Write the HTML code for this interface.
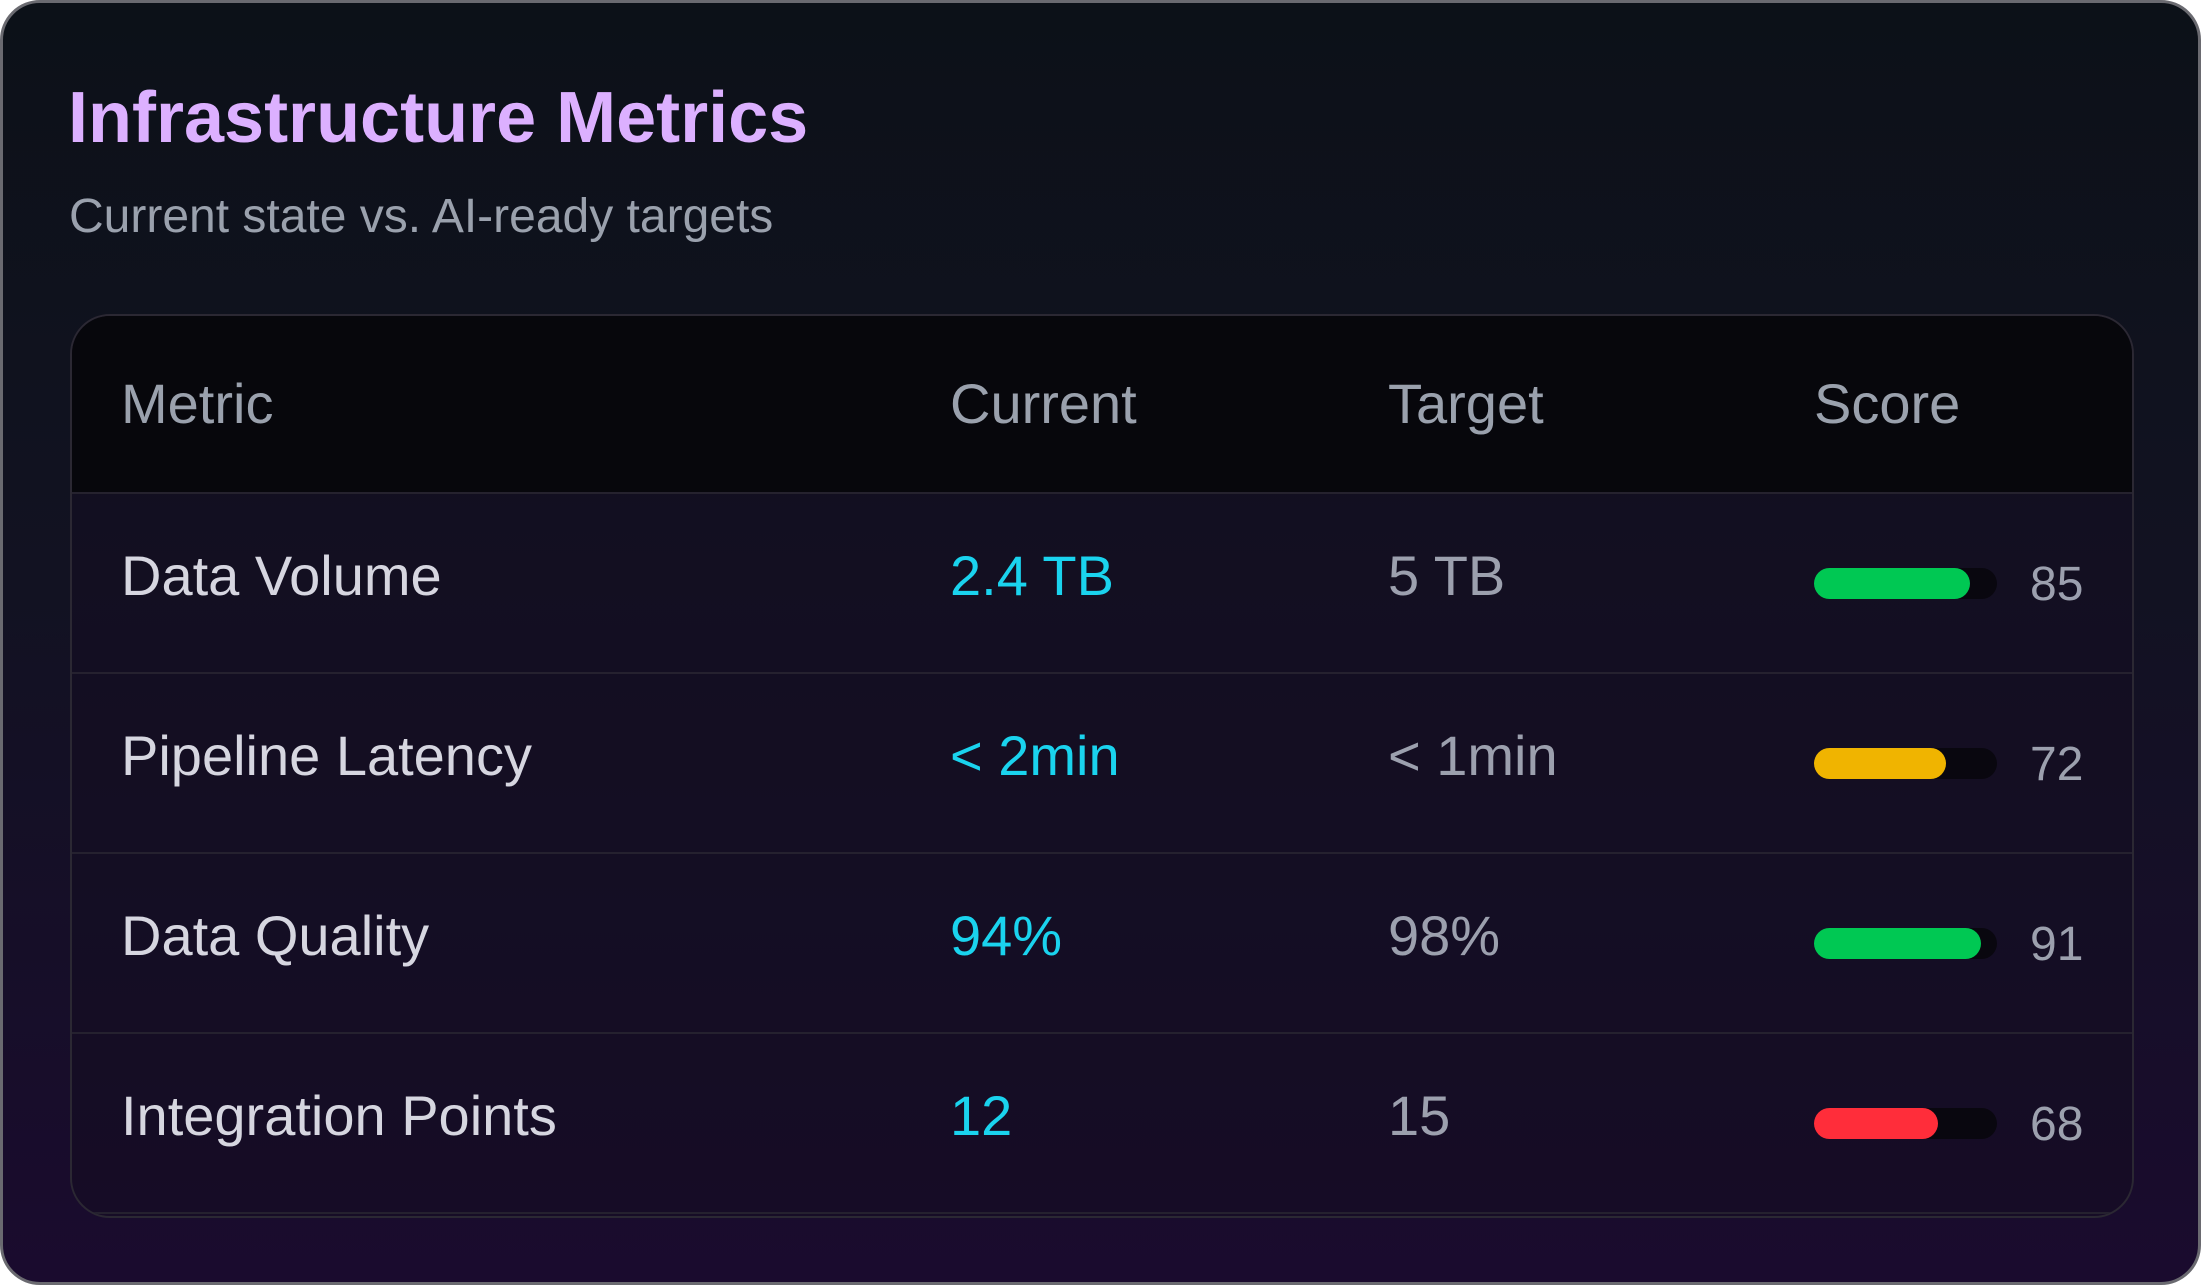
<!DOCTYPE html>
<html><head><meta charset="utf-8"><style>
*{margin:0;padding:0;box-sizing:border-box}
html,body{width:2201px;height:1285px;background:#fff;overflow:hidden}
.card{position:absolute;left:0;top:0;width:2201px;height:1285px;border:3px solid #6a6a70;border-radius:40px;background:linear-gradient(180deg,#0c1118 0%,#121222 45%,#1a0b2e 100%);font-family:"Liberation Sans",sans-serif}
.title{position:absolute;left:65px;top:79px;font-size:72px;font-weight:bold;color:#dcb0ff;line-height:1}
.sub{position:absolute;left:66px;top:190px;font-size:48px;color:#9aa1ad;line-height:1}
.tbl{position:absolute;left:67px;top:311px;width:2064px;height:904px;border:2px solid #2b2833;border-radius:40px;overflow:hidden;background:rgba(20,14,34,0.6)}
.hdr{position:absolute;left:0;top:0;width:100%;height:178px;background:#07070c;border-bottom:2px solid #25222e}
.row{position:absolute;left:0;width:100%;height:180px;border-bottom:2px solid #25212f}
.c{position:absolute;font-size:56px;line-height:1;top:50%;transform:translateY(-50%)}
.row .c{margin-top:-7px}
.m{left:49px;color:#d6d6e0}.cur{left:878px;color:#1ad3ee}.tg{left:1316px;color:#9ca0ae}.h{color:#9aa1ad}
.bar{position:absolute;left:1742px;top:50%;margin-top:-15px;width:183px;height:31px;border-radius:16px;background:#09070f}
.bar i{display:block;height:100%;border-radius:16px}
.n{position:absolute;left:1958px;top:50%;margin-top:-22px;font-size:48px;line-height:1;color:#9ca0ae}
</style></head><body>
<div class="card">
<div class="title">Infrastructure Metrics</div>
<div class="sub">Current state vs. AI-ready targets</div>
<div class="tbl">
<div class="hdr"><span class="c m h" style="color:#9aa1ad">Metric</span><span class="c cur h" style="color:#9aa1ad">Current</span><span class="c tg h">Target</span><span class="c h" style="left:1742px">Score</span></div>
<div class="row" style="top:178px"><span class="c m">Data Volume</span><span class="c cur">2.4 TB</span><span class="c tg">5 TB</span><div class="bar"><i style="width:85%;background:#00c853"></i></div><span class="n">85</span></div>
<div class="row" style="top:358px"><span class="c m">Pipeline Latency</span><span class="c cur">&lt; 2min</span><span class="c tg">&lt; 1min</span><div class="bar"><i style="width:72%;background:#f0b400"></i></div><span class="n">72</span></div>
<div class="row" style="top:538px"><span class="c m">Data Quality</span><span class="c cur">94%</span><span class="c tg">98%</span><div class="bar"><i style="width:91%;background:#00c853"></i></div><span class="n">91</span></div>
<div class="row" style="top:718px"><span class="c m">Integration Points</span><span class="c cur">12</span><span class="c tg">15</span><div class="bar"><i style="width:68%;background:#ff2d3a"></i></div><span class="n">68</span></div>
</div>
</div>
</body></html>
